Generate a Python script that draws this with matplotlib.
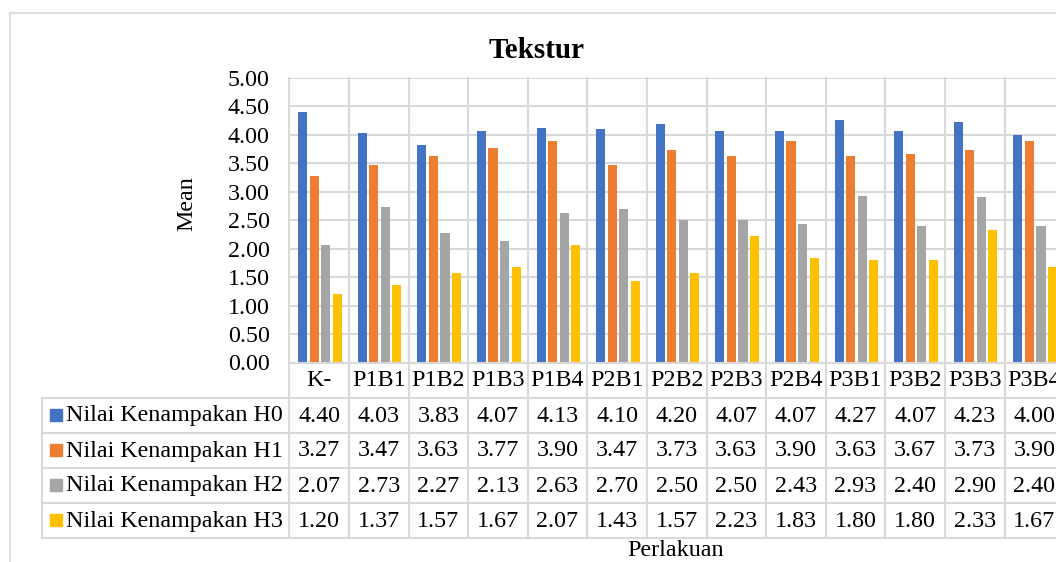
import matplotlib
matplotlib.use("Agg")
import matplotlib.pyplot as plt
import numpy as np
from matplotlib.transforms import blended_transform_factory
from matplotlib.lines import Line2D
from matplotlib.patches import Rectangle

categories = ["K-", "P1B1", "P1B2", "P1B3", "P1B4", "P2B1", "P2B2", "P2B3", "P2B4",
              "P3B1", "P3B2", "P3B3", "P3B4"]
series_names = ["Nilai Kenampakan H0", "Nilai Kenampakan H1",
                "Nilai Kenampakan H2", "Nilai Kenampakan H3"]
h0 = [4.40, 4.03, 3.83, 4.07, 4.13, 4.10, 4.20, 4.07, 4.07, 4.27, 4.07, 4.23, 4.00]
h1 = [3.27, 3.47, 3.63, 3.77, 3.90, 3.47, 3.73, 3.63, 3.90, 3.63, 3.67, 3.73, 3.90]
h2 = [2.07, 2.73, 2.27, 2.13, 2.63, 2.70, 2.50, 2.50, 2.43, 2.93, 2.40, 2.90, 2.40]
h3 = [1.20, 1.37, 1.57, 1.67, 2.07, 1.43, 1.57, 2.23, 1.83, 1.80, 1.80, 2.33, 1.67]
series = [h0, h1, h2, h3]
colors = ["#4472C4", "#ED7D31", "#A5A5A5", "#FFC000"]
yticks = [0.0, 0.5, 1.0, 1.5, 2.0, 2.5, 3.0, 3.5, 4.0, 4.5, 5.0]

W, H = 1056, 562
FONT = "Liberation Serif"
FS = 17.3
GRID = "#D9D9D9"

fig = plt.figure(figsize=(W / 100, H / 100), dpi=100)

def fx(x):
    return x / W

def fy(y):
    return 1 - y / H

cw = 59.6
left = 289.3
top, bottom = 78.0, 362.5
n = len(categories)
ax = fig.add_axes([fx(left), fy(bottom), n * cw / W, (bottom - top) / H])
ax.set_xlim(0, n)
ax.set_ylim(0, 5)
for s in ax.spines.values():
    s.set_visible(False)
ax.set_xticks([])
ax.set_yticks(yticks)
ax.set_yticklabels([f"{v:.2f}" for v in yticks], fontfamily=FONT, fontsize=FS)
ax.tick_params(axis="y", length=0, pad=14)
ax.set_axisbelow(True)
for v in yticks:
    ax.axhline(v, color=GRID, lw=1.5, zorder=0)

x = np.arange(n)
bw = 0.152
step = 0.194
offs = (np.arange(4) - 1.5) * step + 0.5 + 0.015
for i, (vals, c) in enumerate(zip(series, colors)):
    ax.bar(x + offs[i], vals, width=bw, color=c, zorder=2)

# vertical grid lines through plot and table
tr = blended_transform_factory(ax.transData, fig.transFigure)
row_y = [362.5, 397.5, 432.5, 467.5, 502.5, 538.0]
for k in range(n + 1):
    fig.add_artist(Line2D([k, k], [fy(top), fy(row_y[-1])], transform=tr,
                          color=GRID, lw=1.5, zorder=1))
# horizontal table lines
for j, yy in enumerate(row_y):
    fig.add_artist(Line2D([fx(left), 1.0], [fy(yy), fy(yy)], transform=fig.transFigure,
                          color=GRID, lw=1.5))
    if j >= 1:
        fig.add_artist(Line2D([fx(42), fx(left)], [fy(yy), fy(yy)],
                              transform=fig.transFigure, color=GRID, lw=1.5))
fig.add_artist(Line2D([fx(42), fx(42)], [fy(row_y[1]), fy(row_y[-1])],
                      transform=fig.transFigure, color=GRID, lw=1.5))

# header row
hy = (row_y[0] + row_y[1]) / 2
for k, cat in enumerate(categories):
    fig.text(k + 0.5, fy(hy + 1), cat, transform=tr, ha="center", va="center",
             fontfamily=FONT, fontsize=FS)

# data rows
for i, (name, vals, c) in enumerate(zip(series_names, series, colors)):
    yc = (row_y[i + 1] + row_y[i + 2]) / 2
    fig.add_artist(Rectangle((fx(50), fy(yc + 6)), 12 / W, 12 / H,
                             transform=fig.transFigure, color=c))
    fig.text(fx(66), fy(yc + 1), name, ha="left", va="center",
             fontfamily=FONT, fontsize=FS)
    for k, v in enumerate(vals):
        fig.text(k + 0.5, fy(yc + 1), f"{v:.2f}", transform=tr, ha="center", va="center",
                 fontfamily=FONT, fontsize=FS)

fig.text(fx(537), fy(50), "Tekstur", ha="center", va="center",
         fontfamily=FONT, fontsize=21, fontweight="bold")
fig.text(fx(187), fy(204), "Mean", ha="center", va="center", rotation=90,
         fontfamily=FONT, fontsize=FS)
fig.text(fx(676), fy(551), "Perlakuan", ha="center", va="center",
         fontfamily=FONT, fontsize=FS)

# chart border
fig.add_artist(Line2D([fx(9.5), fx(9.5)], [0, fy(12.5)], transform=fig.transFigure,
                      color="#D9D9D9", lw=1.2))
fig.add_artist(Line2D([fx(9.5), 1], [fy(12.5), fy(12.5)], transform=fig.transFigure,
                      color="#D9D9D9", lw=1.2))

fig.savefig("out.png", dpi=100)
